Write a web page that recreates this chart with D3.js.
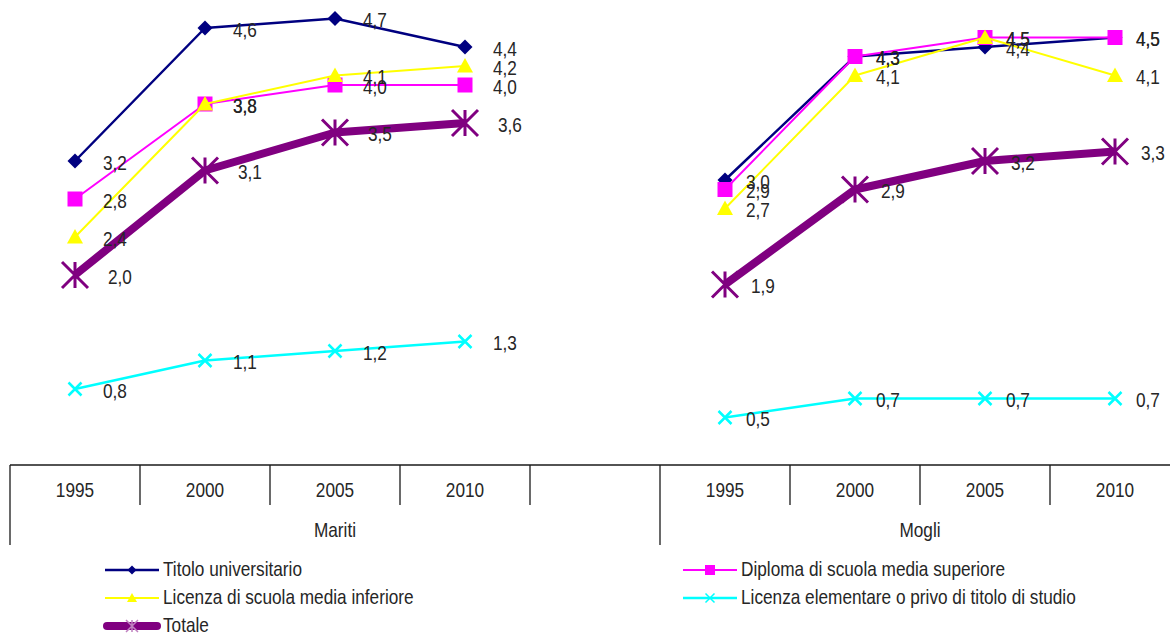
<!DOCTYPE html>
<html>
<head>
<meta charset="utf-8">
<script src="https://cdn.jsdelivr.net/npm/d3@7/dist/d3.min.js"></script>
<style>
  html, body { margin: 0; padding: 0; background: #ffffff; }
  svg { display: block; }
  text { font-family: "Liberation Sans Narrow", "Arial Narrow", "Liberation Sans", Arial, sans-serif; fill: #262626; }
</style>
</head>
<body>
<svg id="chart" width="1170" height="636"></svg>
<script>
// Two groups on a two-level category axis; "Mariti" carries one empty slot at its end
const groups = ["Mariti", "Mogli"];
const groupYears = [["1995", "2000", "2005", "2010", ""], ["1995", "2000", "2005", "2010"]];
const years = ["1995", "2000", "2005", "2010"];

// Values per series: Mariti 1995..2010, then Mogli 1995..2010
const titoloUniversitario = [3.2, 4.6, 4.7, 4.4, 3.0, 4.3, 4.4, 4.5];
const diplomaSuperiore    = [2.8, 3.8, 4.0, 4.0, 2.9, 4.3, 4.5, 4.5];
const licenzaMedia        = [2.4, 3.8, 4.1, 4.2, 2.7, 4.1, 4.5, 4.1];
const licenzaElementare   = [0.8, 1.1, 1.2, 1.3, 0.5, 0.7, 0.7, 0.7];
const totale              = [2.0, 3.1, 3.5, 3.6, 1.9, 2.9, 3.2, 3.3];

const seriesNames = [
  "Titolo universitario",
  "Diploma di scuola media superiore",
  "Licenza di scuola media inferiore",
  "Licenza elementare o privo di titolo di studio",
  "Totale"
];
const seriesValues = [titoloUniversitario, diplomaSuperiore, licenzaMedia, licenzaElementare, totale];

const styles = [
  { color: "#000080", width: 2.5, marker: "diamond", ms: 7.5 },
  { color: "#ff00ff", width: 2,   marker: "square",  ms: 7.5 },
  { color: "#ffff00", width: 2,   marker: "triangle",ms: 8 },
  { color: "#00ffff", width: 2.5, marker: "x",       ms: 6.5 },
  { color: "#800080", width: 8,   marker: "star",    ms: 13 }
];

const FONT_SIZE = 21;
const NARROW = 0.82; // condensed look of the text face

const svg = d3.select("#chart");

// Text helper: horizontally condensed label
function addText(parent, tx, ty, str, anchor) {
  const g = parent.append("g").attr("transform", `translate(${tx},${ty}) scale(${NARROW},1)`);
  g.append("text")
    .attr("x", 0).attr("y", 0)
    .attr("text-anchor", anchor || "start")
    .attr("dominant-baseline", "middle")
    .attr("font-size", FONT_SIZE)
    .text(str);
  return g;
}

// Flattened slot keys for the band scale
const slots = [];
groups.forEach((g, gi) => groupYears[gi].forEach((yv, yi) => slots.push(g + "|" + (yv || "_" + yi))));

const x = d3.scaleBand().domain(slots).range([10, 1180]).padding(0);
const y = d3.scaleLinear().domain([0, 5]).range([465, -10]);

const fmt = d3.formatLocale({ decimal: ",", thousands: ".", grouping: [3], currency: ["€", ""] }).format(".1f");

// Build point records
const series = seriesNames.map((name, si) => {
  const vals = seriesValues[si];
  const perGroup = groups.map((g, gi) =>
    years.map((yr, yi) => ({ group: g, gi, year: yr, value: vals[gi * years.length + yi],
      cx: x(g + "|" + yr) + x.bandwidth() / 2 }))
  );
  return { name, style: styles[si], perGroup };
});

function markerPath(type, s) {
  switch (type) {
    case "diamond": return `M0,${-s}L${s},0L0,${s}L${-s},0Z`;
    case "square": return `M${-s},${-s}H${s}V${s}H${-s}Z`;
    case "triangle": return `M0,${-s}L${s},${s * 0.8}L${-s},${s * 0.8}Z`;
    case "x": return `M${-s},${-s}L${s},${s}M${-s},${s}L${s},${-s}`;
    case "star": return `M${-s},${-s}L${s},${s}M${-s},${s}L${s},${-s}M0,${-s}V${s}`;
  }
}
const strokedMarkers = { x: true, star: true };

const line = d3.line().x(d => d.cx).y(d => y(d.value));

const plot = svg.append("g");
series.forEach(s => {
  const st = s.style;
  const g = plot.append("g");
  s.perGroup.forEach(pts => {
    g.append("path")
      .attr("d", line(pts))
      .attr("fill", "none")
      .attr("stroke", st.color)
      .attr("stroke-width", st.width)
      .attr("stroke-linejoin", "round");
    g.selectAll(null).data(pts).enter().append("path")
      .attr("transform", d => `translate(${d.cx},${y(d.value)})`)
      .attr("d", markerPath(st.marker, st.ms))
      .attr("fill", strokedMarkers[st.marker] ? "none" : st.color)
      .attr("stroke", st.color)
      .attr("stroke-width", strokedMarkers[st.marker] ? (st.marker === "star" ? 3 : 2.5) : 0);
  });
});

// Data labels, placed to the right of each point
const labels = svg.append("g");
series.forEach(s => {
  s.perGroup.forEach(pts => {
    pts.forEach(d => {
      addText(labels,
        d.cx + (d.gi === 0 ? 28 : 21) + (s.style.marker === "star" ? 5 : 0),
        y(d.value) + 3,
        fmt(d.value));
    });
  });
});

// Category axis
const axis = svg.append("g").attr("stroke", "#1a1a1a").attr("stroke-width", 1.3);
axis.append("line").attr("x1", 10).attr("x2", 1170).attr("y1", 465).attr("y2", 465);
slots.forEach((k, i) => {
  const left = x(k);
  const isGroupStart = i === 0 || slots[i - 1].split("|")[0] !== k.split("|")[0];
  axis.append("line").attr("x1", left).attr("x2", left)
    .attr("y1", 465).attr("y2", isGroupStart ? 545 : 505);
});
const axisText = svg.append("g");
slots.forEach(k => {
  const yr = k.split("|")[1];
  if (yr.startsWith("_")) return;
  addText(axisText, x(k) + x.bandwidth() / 2, 491, yr, "middle");
});
groups.forEach(g => {
  const keys = slots.filter(k => k.startsWith(g + "|"));
  const x0 = x(keys[0]);
  const x1 = x(keys[keys.length - 1]) + x.bandwidth();
  addText(axisText, (x0 + x1) / 2, 531, g, "middle");
});

// Legend
const legendPos = [
  { x: 105, y: 570 }, { x: 683, y: 570 },
  { x: 105, y: 598 }, { x: 683, y: 598 },
  { x: 105, y: 626 }
];
const legendMarkerSize = [4.5, 5, 5, 4.5, 6];
const legend = svg.append("g");
series.forEach((s, i) => {
  const p = legendPos[i];
  const st = s.style;
  const g = legend.append("g").attr("transform", `translate(${p.x},${p.y})`);
  const isTot = st.marker === "star";
  g.append("line")
    .attr("x1", isTot ? 2 : 0).attr("x2", isTot ? 52 : 54)
    .attr("y1", 0).attr("y2", 0)
    .attr("stroke", st.color)
    .attr("stroke-width", st.width)
    .attr("stroke-linecap", isTot ? "round" : "butt");
  g.append("path")
    .attr("transform", "translate(27,0)")
    .attr("d", markerPath(st.marker, legendMarkerSize[i]))
    .attr("fill", strokedMarkers[st.marker] ? "none" : st.color)
    .attr("stroke", isTot ? "#c080c0" : st.color)
    .attr("stroke-width", strokedMarkers[st.marker] ? 1.5 : 0);
  addText(g, 58, 0, s.name);
});
</script>
</body>
</html>
